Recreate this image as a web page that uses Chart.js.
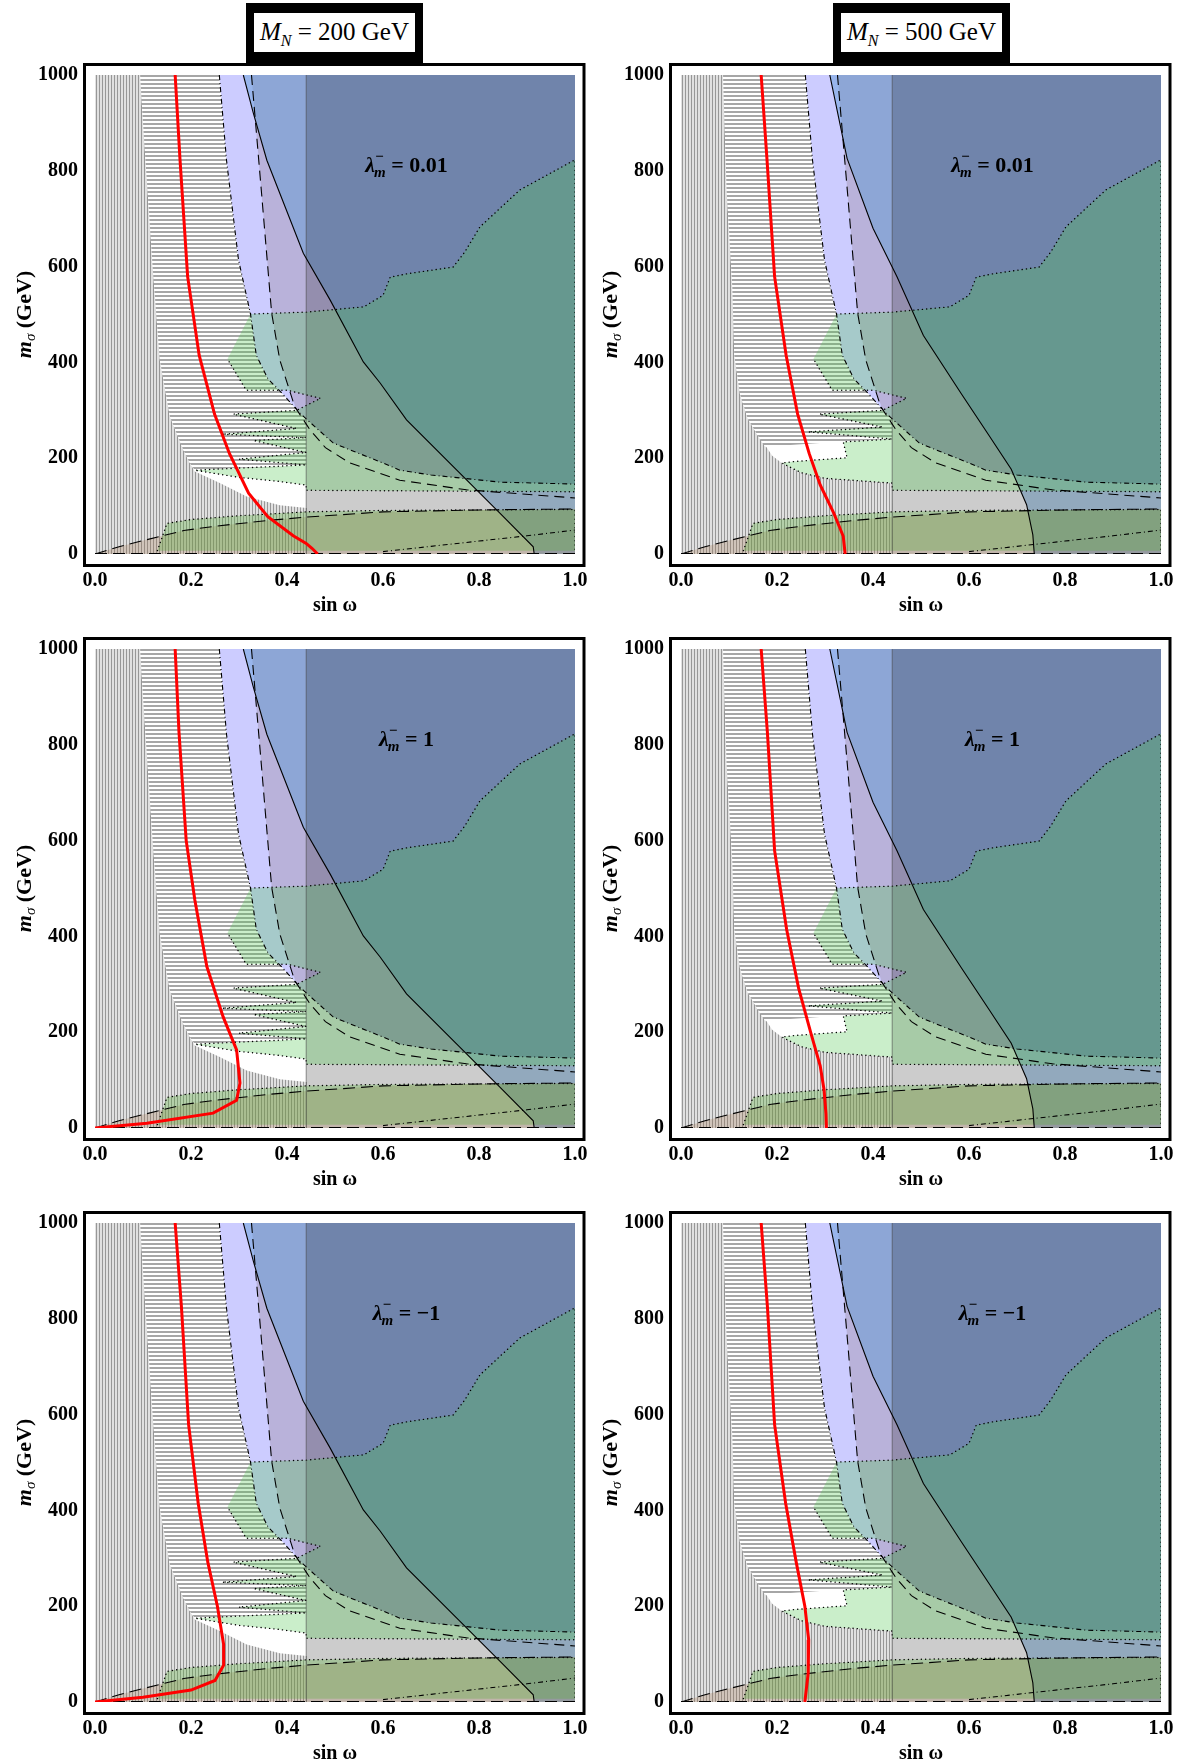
<!DOCTYPE html>
<html><head><meta charset="utf-8">
<script src="https://cdn.jsdelivr.net/npm/chart.js@4.4.0/dist/chart.umd.min.js"></script>
<style>
html,body{margin:0;padding:0;background:#fff;width:1180px;height:1764px;overflow:hidden;position:relative;font-family:"Liberation Serif",serif}
canvas{position:absolute}
.tbox{position:absolute;box-sizing:border-box;background:#fff;border-style:solid;border-color:#000;border-width:10px 8px 11px 8px;font-size:25px;text-align:center;line-height:38px;white-space:nowrap;color:#000}
.tbox sub{font-size:16px;line-height:0;font-style:italic}
</style></head><body>
<div class="tbox" style="left:246px;top:3px;width:177px;height:60px"><i>M</i><sub>N</sub> = 200 GeV</div>
<div class="tbox" style="left:833px;top:3px;width:177px;height:60px"><i>M</i><sub>N</sub> = 500 GeV</div>
<canvas id="c0" width="590" height="561" style="left:0px;top:55px"></canvas>
<canvas id="c1" width="590" height="561" style="left:586px;top:55px"></canvas>
<canvas id="c2" width="590" height="561" style="left:0px;top:629px"></canvas>
<canvas id="c3" width="590" height="561" style="left:586px;top:629px"></canvas>
<canvas id="c4" width="590" height="561" style="left:0px;top:1203px"></canvas>
<canvas id="c5" width="590" height="561" style="left:586px;top:1203px"></canvas>
<script>
// ---------------- tick labels ----------------
const xTickValues = [0, 0.2, 0.4, 0.6, 0.8, 1.0];
const yTickValues = [0, 200, 400, 600, 800, 1000];
const massLabels = ['200', '500'];
const lambdaLabels = ['0.01', '1', '\u22121'];

// ---------------- red curves (sin w, m_sigma) ----------------
const red200_001_x = [0.167,0.177,0.193,0.217,0.249,0.28,0.32,0.36,0.413,0.44,0.452,0.464];
const red200_001_y = [1000,825,579,415,292,210,127,78,38,22,12,0];
const red500_001_x = [0.167,0.179,0.195,0.219,0.243,0.267,0.29,0.318,0.338,0.342];
const red500_001_y = [1000,826,579,415,292,210,144,86,37,0];
const red200_1_x = [0.167,0.175,0.19,0.208,0.233,0.267,0.295,0.302,0.295,0.246,0.108,0];
const red200_1_y = [1000,826,600,476,337,232,163,94,58,31,10,0];
const red500_1_x = [0.167,0.18,0.195,0.22,0.245,0.27,0.29,0.298,0.302,0.303];
const red500_1_y = [1000,826,579,415,292,200,130,80,30,0];
const red200_m1_x = [0.167,0.18,0.195,0.215,0.235,0.255,0.268,0.268,0.25,0.2,0.1,0];
const red200_m1_y = [1000,826,579,415,292,200,120,77,45,25,10,0];
const red500_m1_x = [0.167,0.18,0.195,0.218,0.24,0.258,0.266,0.265,0.258];
const red500_m1_y = [1000,826,579,415,292,200,130,60,0];

// ---------------- boundary curves shared by all panels ----------------
const dotDashX = [0.259,0.274,0.299,0.324,0.336,0.36,0.392,0.427,0.44,0.496,0.52,0.6,0.635,0.7,0.844,1.0];
const dotDashY = [1000,822,614,501,415,366,333,294,282,232,222,190,175,165,150,146];
const longDashX = [0.326,0.347,0.368,0.385,0.416,0.448,0.48,0.531,0.635,0.774,1.0];
const longDashY = [1000,753,503,405,308,259,222,190,154,134,117];
const lowDashX = [0,0.05,0.1,0.185,0.25,0.36,0.44,0.6,0.8,1.0];
const lowDashY = [0,15,28,49,58,70,77,88,92,94];
const lowDotDashX = [0.6,0.7,0.8,0.9,1.0];
const lowDotDashY = [5,16,27,38,50];
const sinCutX = [0.44, 0.44];
const sinCutY = [0, 1000];

// lavender region (right of dot-dashed curve)
const lavX = [0.259,1,1,0.844,0.7,0.635,0.6,0.52,0.496,0.44,0.427,0.392,0.36,0.336,0.324,0.299,0.274];
const lavY = [1000,1000,146,150,165,175,190,222,232,282,294,333,366,415,501,614,822];
// pinkish region (right of long dash, above dot-dash)
const pinkX = [0.326,1,1,0.844,0.7,0.635,0.6,0.52,0.496,0.44,0.42,0.385,0.368,0.347];
const pinkY = [1000,1000,146,150,165,175,190,222,232,282,300,405,503,753];
// tan region under the lower long dash
const tanX = [0,0.05,0.1,0.185,0.25,0.36,0.44,0.6,0.8,1.0,1.0];
const tanY = [0,15,28,49,58,70,77,88,92,94,0];
// lower green band
const greenLowX = [0.13,0.15,0.2,0.3,0.44,0.6,1.0,1.0];
const greenLowY = [7,64,72,80,88,91,93,7];
// grey overlay for sin w > 0.44
const greyX = [0.44,0.44,1,1];
const greyY = [0,1000,1000,0];

// ---------------- M_N = 200 GeV specific ----------------
const solid200X = [0.309,0.33,0.358,0.434,0.49,0.559,0.594,0.649,0.76,0.844,0.913,0.915];
const solid200Y = [1000,920,822,628,530,401,357,280,169,85,15,0];
const vert200X = [0,0,0.094,0.1,0.108,0.12,0.135,0.156,0.184,0.198,0.208,0.26,0.316,0.385,0.441,0.441];
const vert200Y = [0,1000,1000,900,780,600,405,287,217,189,172,148,120,102,96,0];
const hor200X = [0.094,0.259,0.274,0.299,0.324,0.336,0.36,0.392,0.427,0.44,0.44,0.30,0.208,0.198,0.184,0.156,0.135,0.12,0.108,0.1];
const hor200Y = [1000,1000,822,614,501,415,366,333,294,282,182,180,175,189,217,287,405,600,780,900];
const gUp200X = [0.324,0.44,0.56,0.6,0.615,0.65,0.746,0.77,0.802,0.885,1.0,1.0,0.44,0.44,0.38,0.3,0.208,0.44,0.30,0.44,0.33,0.44,0.265,0.42,0.288,0.42,0.47,0.40,0.315,0.276];
const gUp200Y = [501,505,516,540,578,585,599,630,683,760,823,130,133,144,152,160,175,186,198,212,237,243,250,262,292,300,325,342,342,407];

// ---------------- M_N = 500 GeV specific ----------------
const solid500X = [0.31,0.346,0.40,0.45,0.505,0.585,0.64,0.688,0.72,0.733,0.736];
const solid500Y = [1000,826,680,579,456,333,250,177,103,40,0];
const vert500X = [0,0,0.0875,0.095,0.107,0.111,0.123,0.139,0.163,0.179,0.19,0.21,0.25,0.3,0.44,0.441];
const vert500Y = [0,1000,1000,760,555,415,333,283,242,222,205,190,170,158,148,0];
const hor500X = [0.0875,0.259,0.274,0.299,0.324,0.336,0.36,0.392,0.427,0.44,0.44,0.35,0.175,0.163,0.139,0.123,0.111,0.107,0.095];
const hor500Y = [1000,1000,822,614,501,415,366,333,294,282,240,236,224,242,283,333,415,555,760];
const gUp500X = [0.324,0.44,0.56,0.6,0.615,0.65,0.746,0.77,0.802,0.885,1.0,1.0,0.44,0.44,0.3,0.25,0.21,0.235,0.346,0.338,0.44,0.265,0.42,0.288,0.42,0.47,0.40,0.315,0.276];
const gUp500Y = [501,505,516,540,578,585,599,630,683,760,823,130,133,148,158,170,190,193,201,234,240,255,265,292,300,325,342,342,407];

// ---------------- helpers ----------------
const FONT = '"Liberation Serif", "Times New Roman", serif';
function pts(xs, ys) { return xs.map((x, i) => ({x: x, y: ys[i]})); }
function region(xs, ys, color, border) {
  const d = {data: pts(xs, ys), backgroundColor: color, borderColor: 'rgba(0,0,0,0)', borderWidth: 0,
    fill: 'shape', pointRadius: 0, pointHoverRadius: 0, tension: 0};
  if (border) { d.borderColor = border.color; d.borderWidth = border.width; d.borderDash = border.dash || []; d.borderCapStyle = border.cap || 'butt'; }
  return d;
}
function curve(xs, ys, color, width, dash, cap) {
  return {data: pts(xs, ys), borderColor: color, backgroundColor: 'rgba(0,0,0,0)', borderWidth: width,
    borderDash: dash || [], borderCapStyle: cap || 'butt', fill: false, pointRadius: 0, pointHoverRadius: 0, tension: 0};
}
function makePattern(vertical) {
  const c = document.createElement('canvas');
  const g = c.getContext('2d');
  if (vertical) {
    c.width = 3; c.height = 3;
    g.fillStyle = '#e0e0e0'; g.fillRect(0, 0, 3, 3);
    g.fillStyle = '#979797'; g.fillRect(0, 0, 1, 3);
  } else {
    c.width = 4; c.height = 4;
    g.fillStyle = '#ffffff'; g.fillRect(0, 0, 4, 4);
    g.fillStyle = '#a6a6a6'; g.fillRect(0, 0, 4, 2);
  }
  return g.createPattern(c, 'repeat');
}
const vPat = makePattern(true);
const hPat = makePattern(false);
const DOT = {color: '#000', width: 1.4, dash: [0.1, 4.2], cap: 'round'};

function buildDatasets(col, rx, ry) {
  const m500 = col === 1;
  const layers = [
    region(m500 ? vert500X : vert200X, m500 ? vert500Y : vert200Y, vPat),
    region(m500 ? hor500X : hor200X, m500 ? hor500Y : hor200Y, hPat),
    region(lavX, lavY, '#ccccff'),
    region(pinkX, pinkY, 'rgba(150,130,150,0.35)'),
    region(m500 ? solid500X.concat([1, 1]) : solid200X.concat([1, 1]),
           m500 ? solid500Y.concat([0, 1000]) : solid200Y.concat([0, 1000]), 'rgba(80,150,210,0.42)'),
    region(greyX, greyY, 'rgba(0,0,0,0.2)'),
    region(tanX, tanY, 'rgba(160,110,70,0.25)'),
    region(greenLowX, greenLowY, 'rgba(90,175,60,0.33)', DOT),
    region(m500 ? gUp500X : gUp200X, m500 ? gUp500Y : gUp200Y, 'rgba(80,200,80,0.3)', DOT),
    curve(sinCutX, sinCutY, 'rgba(70,70,70,0.6)', 1),
    curve(dotDashX, dotDashY, '#000', 1.1, [5, 3, 1, 3]),
    curve(longDashX, longDashY, '#000', 1.1, [10, 6]),
    curve(lowDashX, lowDashY, '#000', 1.1, [12, 6]),
    curve(lowDotDashX, lowDotDashY, '#000', 1.1, [5, 3, 1, 3]),
    curve(m500 ? solid500X : solid200X, m500 ? solid500Y : solid200Y, '#000', 1.1),
    curve([0, 1], [1, 1], '#000', 1.2, [12, 6]),
    curve(rx, ry, '#ff0000', 3)
  ];
  // first item = bottom layer; Chart.js draws higher "order" first
  layers.forEach((d, i) => { d.order = layers.length - i; });
  return layers;
}

function drawLambda(ctx, cx, cy, val) {
  const big = 'bold italic 22px ' + FONT, small = 'bold italic 15px ' + FONT, reg = 'bold 22px ' + FONT;
  ctx.save();
  ctx.fillStyle = '#000'; ctx.textAlign = 'left'; ctx.textBaseline = 'alphabetic';
  ctx.font = big; const wL = ctx.measureText('\u03bb').width;
  ctx.font = small; const wm = ctx.measureText('m').width;
  ctx.font = reg; const wr = ctx.measureText(' = ' + val).width;
  let x = cx - (wL + wm + wr) / 2;
  const base = cy + 8;
  ctx.font = big; ctx.fillText('\u03bb', x, base); x += wL - 1;
  ctx.font = small; ctx.fillText('m', x, base + 5); ctx.fillText('\u2212', x + 1, base - 11); x += wm;
  ctx.font = reg; ctx.fillText(' = ' + val, x, base);
  ctx.restore();
}
function drawYTitle(ctx, cx, cy) {
  ctx.save();
  ctx.translate(cx, cy); ctx.rotate(-Math.PI / 2);
  ctx.fillStyle = '#000'; ctx.textBaseline = 'middle'; ctx.textAlign = 'left';
  const f1 = 'bold italic 22px ' + FONT, f2 = 'italic 15px ' + FONT, f3 = 'bold 22px ' + FONT;
  ctx.font = f1; const w1 = ctx.measureText('m').width;
  ctx.font = f2; const w2 = ctx.measureText('\u03c3').width;
  ctx.font = f3; const w3 = ctx.measureText(' (GeV)').width;
  let x = -(w1 + w2 + w3) / 2;
  ctx.font = f1; ctx.fillText('m', x, 0); x += w1;
  ctx.font = f2; ctx.fillText('\u03c3', x, 6); x += w2;
  ctx.font = f3; ctx.fillText(' (GeV)', x, 0);
  ctx.restore();
}

const decor = {
  id: 'decor',
  afterDraw(chart) {
    const ctx = chart.ctx, a = chart.chartArea;
    const sx = chart.scales.x, sy = chart.scales.y;
    drawLambda(ctx, sx.getPixelForValue(0.65), sy.getPixelForValue(815), chart.options.plugins.decor.lam);
    drawYTitle(ctx, a.left - 70, (a.top + a.bottom) / 2);
    ctx.save();
    ctx.strokeStyle = '#000'; ctx.lineWidth = 3;
    ctx.strokeRect(a.left - 10.5, a.top - 10.5, (a.right + 9) - (a.left - 10.5), (a.bottom + 11.5) - (a.top - 10.5));
    ctx.restore();
  }
};

function options(lam) {
  return {
    responsive: false, animation: false, devicePixelRatio: 1,
    layout: {padding: {top: 20, right: 15, left: 0, bottom: 0}},
    plugins: {legend: {display: false}, tooltip: {enabled: false}, decor: {lam: lam}},
    scales: {
      x: {type: 'linear', min: 0, max: 1,
        afterBuildTicks: s => { s.ticks = xTickValues.map(v => ({value: v})); },
        afterFit: s => { s.height = 62; s.paddingLeft = 0; s.paddingRight = 0; },
        grid: {display: false, drawTicks: false}, border: {display: false},
        ticks: {padding: 17, color: '#000', autoSkip: false, maxRotation: 0,
          font: {family: FONT, weight: 'bold', size: 20, lineHeight: 1}, callback: v => Number(v).toFixed(1)},
        title: {display: true, text: 'sin \u03c9', color: '#000', padding: {top: 0, bottom: 0},
          font: {family: FONT, weight: 'bold', size: 20, lineHeight: 1}}},
      y: {type: 'linear', min: 0, max: 1000,
        afterBuildTicks: s => { s.ticks = yTickValues.map(v => ({value: v})); },
        afterFit: s => { s.width = 95; s.paddingTop = 0; s.paddingBottom = 0; },
        grid: {display: false, drawTicks: false}, border: {display: false},
        ticks: {padding: 17, color: '#000', autoSkip: false,
          font: {family: FONT, weight: 'bold', size: 20, lineHeight: 1}, callback: v => String(v)}}
    }
  };
}

const panels = [
  {id: 'c0', col: 0, lam: lambdaLabels[0], rx: red200_001_x, ry: red200_001_y},
  {id: 'c1', col: 1, lam: lambdaLabels[0], rx: red500_001_x, ry: red500_001_y},
  {id: 'c2', col: 0, lam: lambdaLabels[1], rx: red200_1_x, ry: red200_1_y},
  {id: 'c3', col: 1, lam: lambdaLabels[1], rx: red500_1_x, ry: red500_1_y},
  {id: 'c4', col: 0, lam: lambdaLabels[2], rx: red200_m1_x, ry: red200_m1_y},
  {id: 'c5', col: 1, lam: lambdaLabels[2], rx: red500_m1_x, ry: red500_m1_y}
];
panels.forEach(p => {
  new Chart(document.getElementById(p.id), {
    type: 'line',
    data: {datasets: buildDatasets(p.col, p.rx, p.ry)},
    options: options(p.lam),
    plugins: [decor]
  });
});
</script>
</body></html>
